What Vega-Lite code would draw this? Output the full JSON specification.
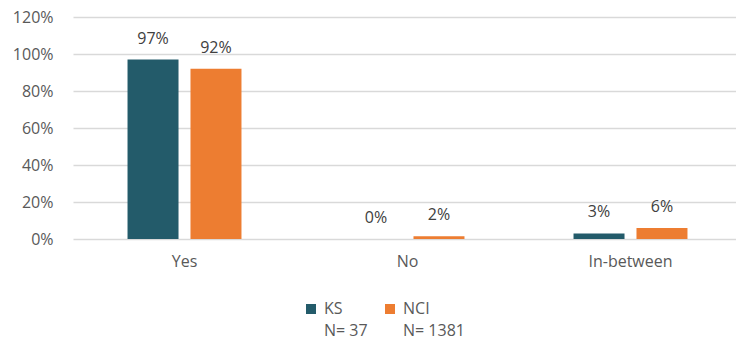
{
  "$schema": "https://vega.github.io/schema/vega-lite/v6.json",
  "width": 663,
  "height": 222,
  "autosize": {"type": "none"},
  "padding": {"left": 73, "top": 17, "right": 0, "bottom": 103},
  "background": "white",
  "config": {
    "view": {"stroke": null},
    "font": "Open Sans",
    "axis": {"labelColor": "#595959", "labelFont": "Open Sans", "labelFontSize": 16, "domain": false, "ticks": false, "gridColor": "#d9d9d9", "gridWidth": 1.3},
    "legend": {"labelColor": "#595959", "labelFont": "Open Sans", "labelFontSize": 16}
  },
  "data": {
    "values": [
      {"answer": "Yes", "group": "KS", "value": 0.97},
      {"answer": "Yes", "group": "NCI", "value": 0.92},
      {"answer": "No", "group": "KS", "value": 0.0},
      {"answer": "No", "group": "NCI", "value": 0.015},
      {"answer": "In-between", "group": "KS", "value": 0.03},
      {"answer": "In-between", "group": "NCI", "value": 0.06}
    ]
  },
  "encoding": {
    "x": {"field": "answer", "type": "nominal", "sort": ["Yes", "No", "In-between"],
      "scale": {"range": [0, 669], "paddingInner": 0.489, "paddingOuter": 0.2445},
      "axis": {"title": null, "labelAngle": 0, "labelPadding": 14, "grid": false}},
    "xOffset": {"field": "group", "type": "nominal", "scale": {"paddingInner": 0.19}},
    "y": {"field": "value", "type": "quantitative",
      "scale": {"domain": [0, 1.2], "nice": false},
      "axis": {"title": null, "format": ".0%", "values": [0, 0.2, 0.4, 0.6, 0.8, 1.0, 1.2], "labelPadding": 20}}
  },
  "layer": [
    {
      "mark": {"type": "bar"},
      "encoding": {
        "color": {"field": "group", "type": "nominal",
          "scale": {"domain": ["KS", "NCI"], "range": ["#235b6a", "#ed7d31"]},
          "legend": {"title": null, "orient": "none", "legendX": 230, "legendY": 284, "direction": "horizontal",
            "symbolType": "square", "symbolSize": 100, "symbolStrokeWidth": 0, "symbolOpacity": 1, "columnPadding": 14, "labelOffset": 5,
            "labelExpr": "datum.label == 'KS' ? ['KS', 'N= 37'] : ['NCI', 'N= 1381']",
            "encode": {"labels": {"update": {"lineHeight": {"value": 22}}}}}}
      }
    },
    {
      "mark": {"type": "text", "dy": -21, "fontSize": 16, "color": "#404040", "font": "Open Sans"},
      "encoding": {
        "text": {"field": "value", "type": "quantitative", "format": ".0%"}
      }
    }
  ]
}
